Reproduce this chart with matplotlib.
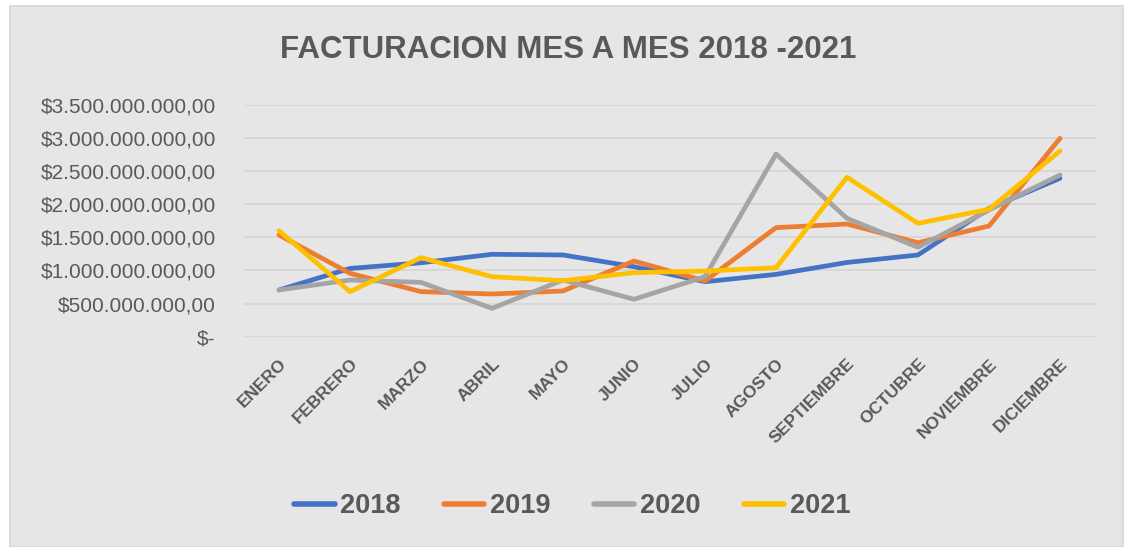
import matplotlib.pyplot as plt
from matplotlib.patches import Rectangle
from matplotlib.ticker import FuncFormatter

# ============== DATOS ==============
MESES = ["ENERO", "FEBRERO", "MARZO", "ABRIL", "MAYO", "JUNIO", "JULIO",
         "AGOSTO", "SEPTIEMBRE", "OCTUBRE", "NOVIEMBRE", "DICIEMBRE"]

V2018 = [705e6, 1030e6, 1115e6, 1243e6, 1233e6, 1056e6, 830e6,
         940e6, 1120e6, 1233e6, 1935e6, 2390e6]
V2019 = [1534e6, 956e6, 680e6, 644e6, 690e6, 1142e6, 840e6,
         1645e6, 1700e6, 1418e6, 1670e6, 2993e6]
V2020 = [705e6, 855e6, 820e6, 428e6, 855e6, 564e6, 905e6,
         2756e6, 1786e6, 1349e6, 1911e6, 2440e6]
V2021 = [1599e6, 680e6, 1192e6, 905e6, 845e6, 966e6, 991e6,
         1041e6, 2405e6, 1711e6, 1922e6, 2802e6]

SERIES = [("2018", V2018, "#4472C4"),
          ("2019", V2019, "#ED7D31"),
          ("2020", V2020, "#A5A5A5"),
          ("2021", V2021, "#FFC000")]
# ===================================

TXT = "#595959"
BG = "#e6e6e6"
W, H = 1125, 547

plt.rcParams["font.family"] = ["Liberation Sans", "DejaVu Sans"]


def pesos(v, pos):
    if v == 0:
        return "$-"
    entero = f"{int(round(v)):,}".replace(",", ".")
    return f"${entero},00"


fig = plt.figure(figsize=(W / 100, H / 100), dpi=100, facecolor="white")

# marco gris del grafico (detras de los ejes)
fig.patches.append(Rectangle((10 / W, 0), (1123 - 10) / W, (H - 6) / H,
                             transform=fig.transFigure, facecolor=BG,
                             edgecolor="#d6d6d6", linewidth=1.2, zorder=-5))

ax = fig.add_axes([243.5 / W, 1 - 336.7 / H, (1095.5 - 243.5) / W, (336.7 - 104.7) / H])
ax.set_zorder(2)
ax.patch.set_visible(False)

x = list(range(len(MESES)))
for nombre, vals, color in SERIES:
    ax.plot(x, vals, color=color, linewidth=3.4, solid_capstyle="round",
            solid_joinstyle="round", label=nombre, zorder=3)

ax.set_xlim(-0.5, len(MESES) - 0.5)
ax.set_ylim(0, 3.5e9)
ax.set_yticks([i * 5e8 for i in range(8)])
ax.yaxis.set_major_formatter(FuncFormatter(pesos))
ax.grid(axis="y", color="#d4d4d4", linewidth=1.2, zorder=1)
for s in ax.spines.values():
    s.set_visible(False)
ax.tick_params(axis="y", length=0, pad=20, labelsize=15, labelcolor=TXT)
ax.set_xticks(x)
ax.set_xticklabels(MESES, rotation=45, ha="right", va="top",
                   rotation_mode="anchor", fontsize=12.5, fontweight="bold", color=TXT)
ax.tick_params(axis="x", length=0, pad=14)

fig.text(568 / W, 1 - 50 / H, "FACTURACION MES A MES 2018 -2021", ha="center", va="center",
         fontsize=22.5, fontweight="bold", color=TXT)

leg = fig.legend(loc="center", bbox_to_anchor=(572 / W, 1 - 506 / H), ncol=4,
                 frameon=False, fontsize=19.5, handlelength=1.5, handletextpad=0.2,
                 columnspacing=1.6)
for t in leg.get_texts():
    t.set_color(TXT)
    t.set_fontweight("bold")
for l in leg.get_lines():
    l.set_linewidth(4)

fig.savefig("out.png", dpi=100, facecolor="white")
